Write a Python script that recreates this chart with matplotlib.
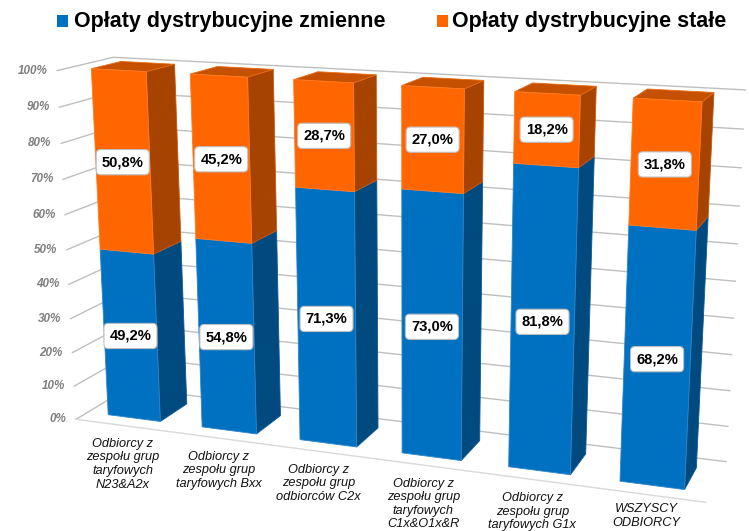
import numpy as np
import matplotlib
matplotlib.use("Agg")
import matplotlib.pyplot as plt
from matplotlib.patches import Rectangle

# ---- data ----
categories = ["Odbiorcy z\nzespołu grup\ntaryfowych\nN23&A2x",
              "Odbiorcy z\nzespołu grup\ntaryfowych Bxx",
              "Odbiorcy z\nzespołu grup\nodbiorców C2x",
              "Odbiorcy z\nzespołu grup\ntaryfowych\nC1x&O1x&R",
              "Odbiorcy z\nzespołu grup\ntaryfowych G1x",
              "WSZYSCY\nODBIORCY"]
zmienne = [49.2, 54.8, 71.3, 73.0, 81.8, 68.2]
stale = [50.8, 45.2, 28.7, 27.0, 18.2, 31.8]
series_names = ["Opłaty dystrybucyjne zmienne", "Opłaty dystrybucyjne stałe"]
ticks = list(range(0, 101, 10))

# ---- perspective camera of the 3-D chart: (category, value, depth) -> pixels ----
CAM = np.array([[90.59165130550667, -0.21872449660550056, 59.485297320287515, 76.05723911742416],
                [3.626765069761105, -3.525190956823656, -9.279132050827364, 419.31123522562575],
                [-0.02032251569335743, -0.0005346515967630805, 0.057271717891252835, 1.0]])
BAR_W, D0, D1 = 0.56, 0.22, 0.76


def proj(u, v, w):
    h = CAM @ np.array([u, v, w, 1.0])
    return h[0] / h[2], h[1] / h[2]


plt.rcParams['font.family'] = ['Liberation Sans', 'DejaVu Sans']
fig = plt.figure(figsize=(7.49, 5.31), dpi=100)
ax = fig.add_axes([0, 0, 1, 1])
ax.set_xlim(0, 749)
ax.set_ylim(531, 0)
ax.axis('off')

GRID = '#BFBFBF'
for t in ticks:
    a, b, c = proj(0, t, 0), proj(0, t, 1), proj(6, t, 1)
    ax.plot([a[0], b[0], c[0]], [a[1], b[1], c[1]], color=GRID, lw=1.0, zorder=1,
            solid_joinstyle='miter')
    ax.text(a[0] - 9.5, a[1], f"{t}%", ha='right', va='center', fontsize=8.4,
            fontweight='bold', fontstyle='italic', color='#7F7F7F', zorder=5)
a, b = proj(0, 0, 0), proj(6, 0, 0)
ax.plot([a[0], b[0]], [a[1], b[1]], color='#D9D9D9', lw=1.0, zorder=1)


def face(corners, color, edge, z):
    p = [proj(*c) for c in corners]
    ax.fill([q[0] for q in p], [q[1] for q in p], facecolor=color, edgecolor=edge,
            lw=0.6, zorder=z, joinstyle='miter')


for i, (lo, hi) in enumerate(zip(zmienne, stale)):
    l, r = i + 0.5 - BAR_W / 2, i + 0.5 + BAR_W / 2
    z = 2 + i * 0.1
    top = lo + hi
    # blue segment
    face([(r, 0, D0), (r, 0, D1), (r, lo, D1), (r, lo, D0)], '#004A80', '#0A5A94', z)
    face([(l, 0, D0), (r, 0, D0), (r, lo, D0), (l, lo, D0)], '#0070C0', '#2E86CC', z)
    # orange segment
    face([(r, lo, D0), (r, lo, D1), (r, top, D1), (r, top, D0)], '#A64300', '#C85A10', z)
    face([(l, top, D0), (r, top, D0), (r, top, D1), (l, top, D1)], '#C55100', '#E86A10', z)
    face([(l, lo, D0), (r, lo, D0), (r, top, D0), (l, top, D0)], '#FF6600', '#FF7A22', z)
    # data labels, centred on each front face
    for bottom, val in ((0, lo), (lo, hi)):
        x, y = proj(i + 0.5, bottom + val / 2, D0)
        ax.text(x, y, f"{val:.1f}%".replace('.', ','), ha='center', va='center',
                fontsize=10.6, fontweight='bold', color='black', zorder=6,
                bbox=dict(boxstyle='round,pad=0.38,rounding_size=0.3', fc='white',
                          ec='#BFBFBF', lw=0.8))
    # category labels, hanging under the front floor edge, kept inside the canvas
    x, y = proj(i + 0.5, 0, 0)
    ax.text(x, min(y + 12.5, 503.5), categories[i], ha='center', va='top', fontsize=9.2,
            fontstyle='italic', color='#111111', linespacing=1.17, zorder=5)

# legend
for xm, xt, col, name in ((57, 74, '#0070C0', series_names[0]),
                          (437, 452, '#FF6600', series_names[1])):
    ax.add_patch(Rectangle((xm, 15), 11, 12, fc=col, ec='none', zorder=5))
    ax.text(xt, 21, name, ha='left', va='center', fontsize=15.5, fontweight='bold',
            color='black', zorder=5)

fig.savefig('out.png', dpi=100, facecolor='white')
